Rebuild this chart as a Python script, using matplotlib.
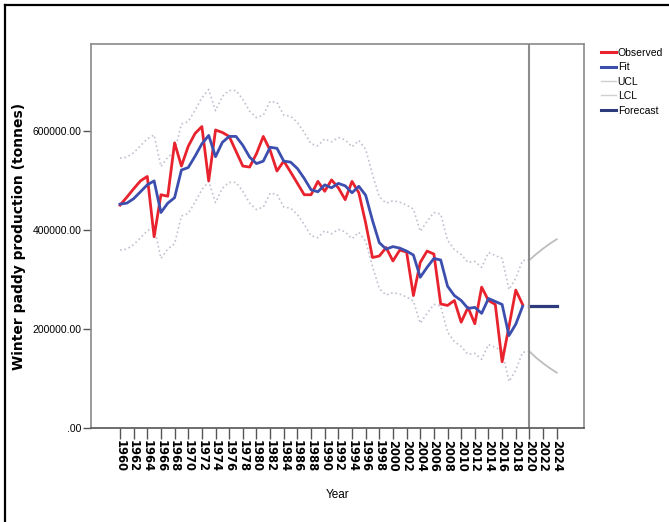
import numpy as np, matplotlib
matplotlib.use("Agg")
import matplotlib.pyplot as plt
from matplotlib.lines import Line2D

# ---- data (tonnes) ----
years = np.arange(1960, 2025)
n_hist = 60  # 1960-2019 observed / fitted
observed = [451000, 467000, 484000, 500000, 509000, 387000, 472000, 469000, 577000, 530000,
            570000, 596000, 610000, 500000, 603000, 598000, 590000, 560000, 530000, 528000,
            555000, 590000, 562000, 520000, 540000, 518000, 495000, 472000, 472000, 499000,
            479000, 502000, 486000, 462000, 499000, 476000, 415000, 345000, 348000, 365000,
            338000, 360000, 356000, 268000, 335000, 358000, 352000, 251000, 248000, 258000,
            214000, 244000, 211000, 285000, 258000, 250000, 134000, 205000, 279000, 250000]
fit = [453000, 455000, 464000, 478000, 492000, 500000, 436000, 455000, 466000, 522000,
       527000, 550000, 575000, 592000, 549000, 578000, 590000, 590000, 572000, 548000,
       535000, 540000, 568000, 566000, 540000, 538000, 525000, 505000, 482000, 478000,
       492000, 486000, 495000, 490000, 476000, 489000, 471000, 420000, 375000, 362000,
       367000, 364000, 358000, 350000, 305000, 325000, 343000, 340000, 287000, 268000,
       258000, 242000, 244000, 232000, 262000, 256000, 250000, 187000, 210000, 246000]
ucl = [546000, 548000, 557000, 571000, 585000, 593000, 529000, 548000, 559000, 615000,
       620000, 643000, 668000, 685000, 642000, 671000, 683000, 683000, 665000, 641000,
       628000, 633000, 661000, 659000, 633000, 631000, 618000, 598000, 575000, 571000,
       585000, 579000, 588000, 583000, 569000, 582000, 564000, 513000, 468000, 455000,
       460000, 457000, 451000, 443000, 398000, 418000, 436000, 433000, 380000, 361000,
       351000, 335000, 337000, 325000, 355000, 349000, 343000, 280000, 303000, 339000,
       340000, 352000, 363000, 373000, 382000]
lcl = [360000, 362000, 371000, 385000, 399000, 407000, 343000, 362000, 373000, 429000,
       434000, 457000, 482000, 499000, 456000, 485000, 497000, 497000, 479000, 455000,
       442000, 447000, 475000, 473000, 447000, 445000, 432000, 412000, 389000, 385000,
       399000, 393000, 402000, 397000, 383000, 396000, 378000, 327000, 282000, 269000,
       274000, 271000, 265000, 257000, 212000, 232000, 250000, 247000, 194000, 175000,
       165000, 149000, 151000, 139000, 169000, 163000, 157000, 94000, 117000, 153000,
       155000, 142000, 131000, 121000, 112000]
forecast = [246000, 246000, 246000, 246000, 246000]
forecast_start = 2020

SANS = ['Liberation Sans', 'DejaVu Sans']
RED, BLUE, NAVY, BAND = '#e8232e', '#3d4fae', '#2d3a7c', '#c4bfd0'

fig = plt.figure(figsize=(6.69, 5.22), dpi=100)
ax = fig.add_axes([91/669, 1-428/522, 493/669, 384/522])

yh = years[:n_hist]
ax.plot(years[:n_hist+1], ucl[:n_hist+1], color=BAND, lw=1.2, ls=':')
ax.plot(years[:n_hist+1], lcl[:n_hist+1], color=BAND, lw=1.2, ls=':')
ax.plot(years[n_hist:], ucl[n_hist:], color='#bdbdbd', lw=1.3)
ax.plot(years[n_hist:], lcl[n_hist:], color='#bdbdbd', lw=1.3)
ax.plot(yh, observed, color=RED, lw=2.0)
ax.plot(yh, fit, color=BLUE, lw=2.0)
ax.plot(years[n_hist:], forecast, color=NAVY, lw=2.3)
ax.axvline(forecast_start, color='#8c8c8c', lw=1.5)

ax.set_xlim(1955.75, 2028)
ax.set_ylim(0, 777000)
ax.set_xticks(np.arange(1960, 2025, 2))
ax.set_xticklabels([str(y) for y in range(1960, 2025, 2)], rotation=270,
                   family='DejaVu Sans', fontsize=8.3, fontweight='bold')
ax.set_yticks([0, 200000, 400000, 600000])
ax.set_yticklabels(['.00', '200000.00', '400000.00', '600000.00'], family=SANS, fontsize=7.5)
ax.tick_params(axis='x', length=8, width=1, color='#555555', pad=1)
ax.tick_params(axis='y', length=6, width=1, color='#555555', pad=1)
for s in ax.spines.values():
    s.set_color('#8a8a8a'); s.set_linewidth(1.2)
ax.spines['bottom'].set_color('#555555')
ax.set_xlabel('Year', family=SANS, fontsize=8.5, labelpad=11.5)
ax.set_ylabel('Winter paddy production (tonnes)', family='DejaVu Sans', fontsize=10,
              fontweight='bold')
ax.yaxis.set_label_coords((26-91)/493, 0.5)

handles = [Line2D([], [], color=RED, lw=2.2), Line2D([], [], color=BLUE, lw=2.2),
           Line2D([], [], color='#cfcfcf', lw=1.0), Line2D([], [], color='#cfcfcf', lw=1.0),
           Line2D([], [], color=NAVY, lw=2.2)]
fig.legend(handles, ['Observed', 'Fit', 'UCL', 'LCL', 'Forecast'], loc='upper left',
           bbox_to_anchor=(601/669, 1-48/522), frameon=False, handlelength=1.45,
           handletextpad=0.15, labelspacing=0.42, borderpad=0, borderaxespad=0,
           prop={'family': SANS, 'size': 7.5})

# screenshot frame (left and top edges)
fig.add_artist(Line2D([5/669, 5/669], [0, 1-5/522], transform=fig.transFigure, color='k', lw=1.6))
fig.add_artist(Line2D([5/669, 1], [1-5/522, 1-5/522], transform=fig.transFigure, color='k', lw=1.6))

fig.savefig('out.png', dpi=100)
